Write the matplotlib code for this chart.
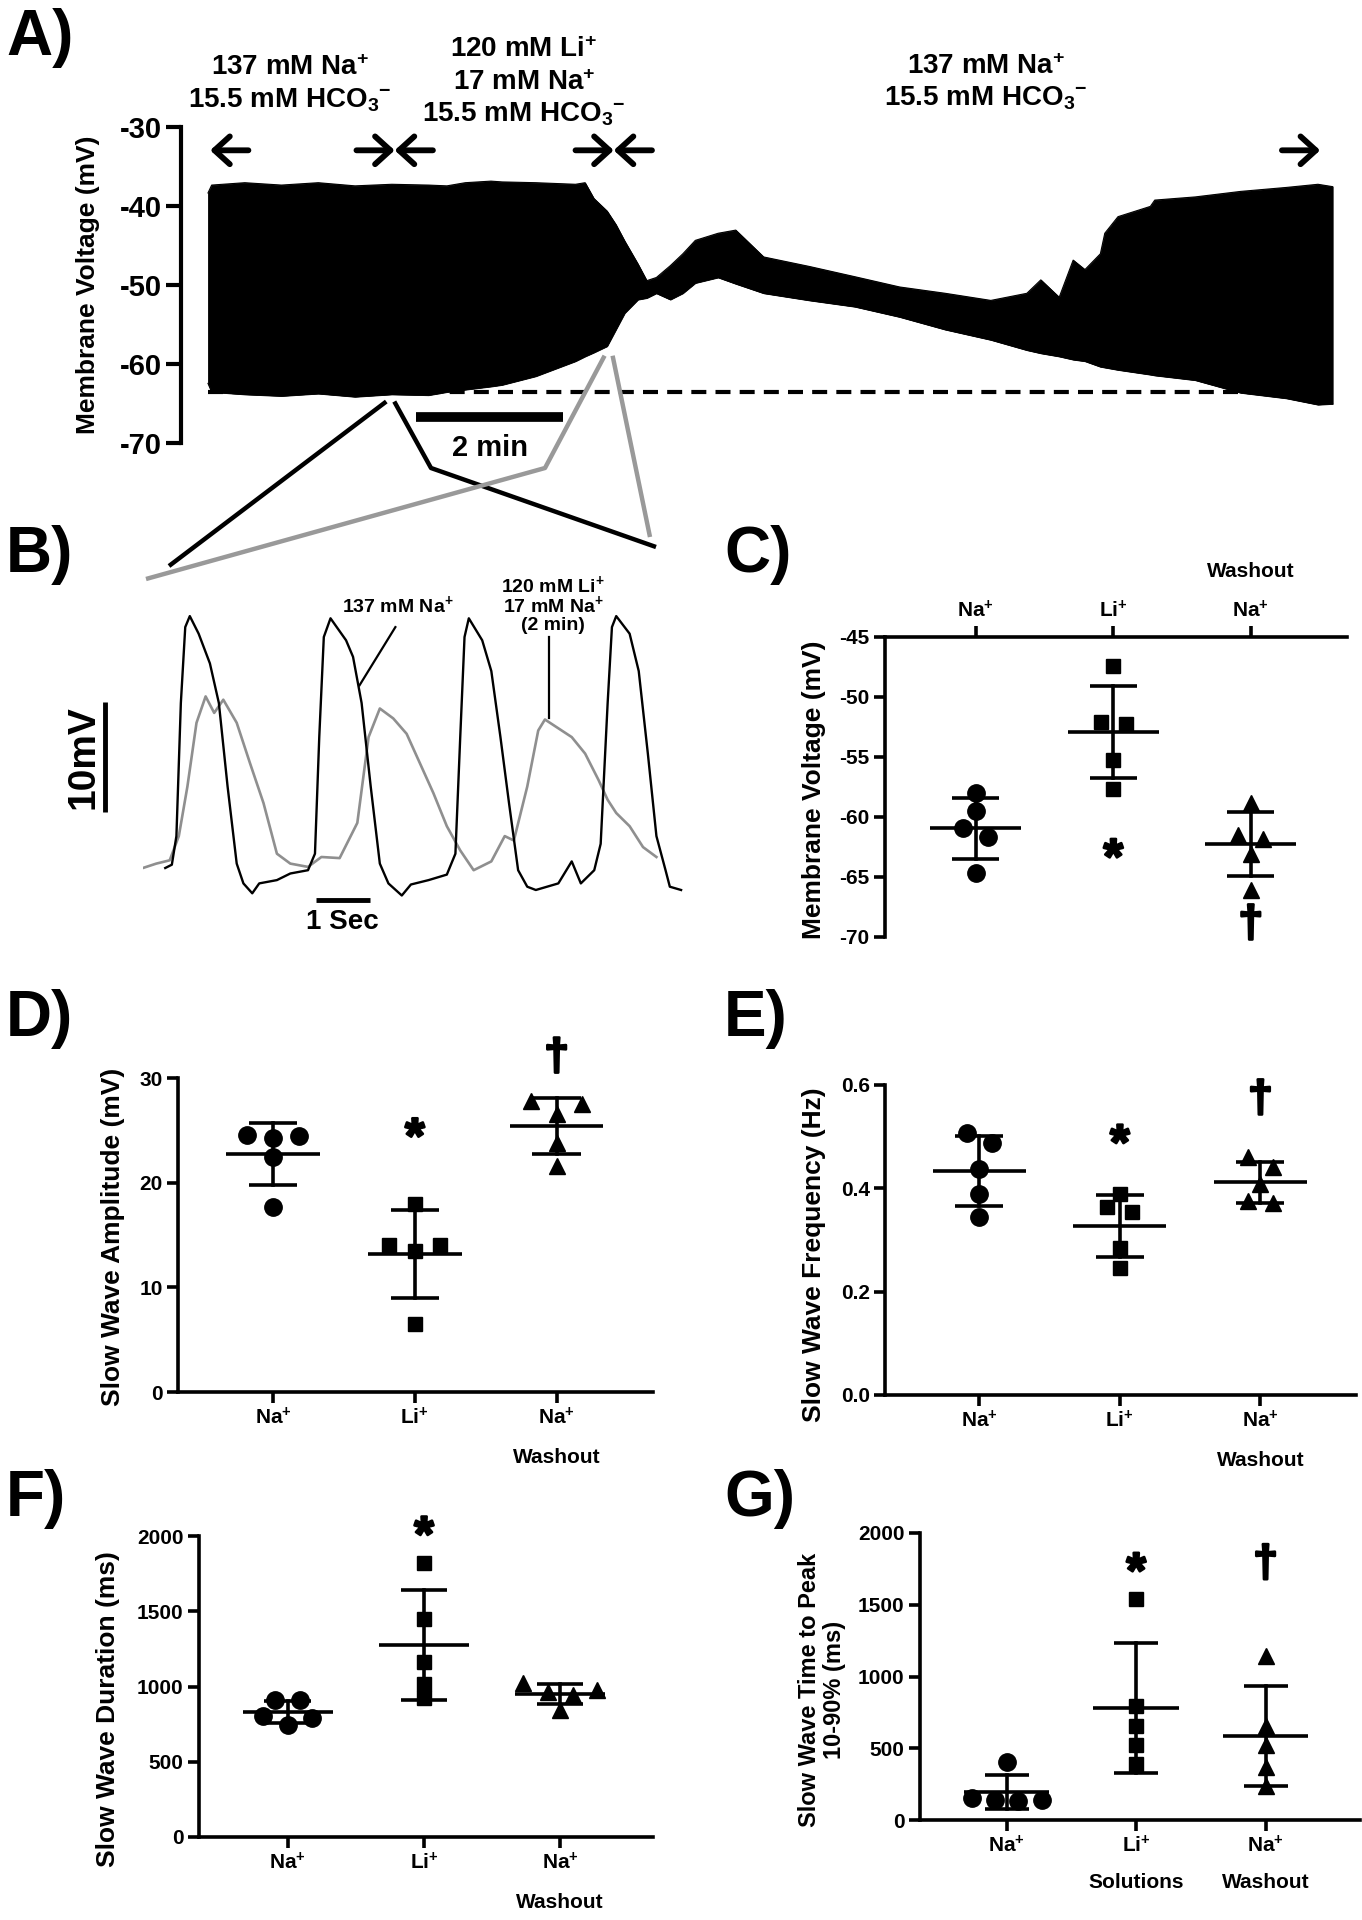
import numpy as np
import matplotlib
matplotlib.use("Agg")
import matplotlib.pyplot as plt
from matplotlib import font_manager
from matplotlib.transforms import offset_copy
import matplotlib.patheffects as pe

W, H = 1362, 1920
_names = {f.name for f in font_manager.fontManager.ttflist}
BOLD = "Liberation Sans" if "Liberation Sans" in _names else "DejaVu Sans"
HAS_NARROW = "Liberation Sans Narrow" in _names
NARROW = "Liberation Sans Narrow" if HAS_NARROW else BOLD

plt.rcParams.update({
    "font.family": [NARROW, "DejaVu Sans"],
    "font.weight": "bold",
    "axes.unicode_minus": False,
    "mathtext.fontset": "custom",
    "mathtext.rm": f"{NARROW}:bold",
    "mathtext.it": f"{NARROW}:bold",
    "mathtext.bf": f"{NARROW}:bold",
    "mathtext.sf": f"{NARROW}:bold",
    "mathtext.default": "rm",
})

# ============================ DATA ============================
# Panel A: envelope of the membrane-voltage recording (time in min, mV)
a_time = [0.0, 0.05, 0.5, 1.0, 1.5, 2.0, 2.5, 3.0, 3.25, 3.5, 3.85, 4.0, 4.46,
          5.0, 5.13, 5.25, 5.43, 5.55, 5.67, 5.85, 5.97, 6.1, 6.29, 6.46, 6.63,
          6.94, 7.18, 7.56, 8.18, 8.8, 9.41, 10.03, 10.65, 11.14, 11.33, 11.58,
          11.77, 11.93, 12.14, 12.2, 12.38, 12.82, 12.88, 13.43, 14.05, 14.67,
          15.1, 15.3]
a_upper = [-38.3, -37.3, -37.0, -37.3, -37.0, -37.4, -37.2, -37.3, -37.4, -37.0,
           -36.8, -36.9, -37.0, -37.2, -37.0, -39.0, -40.6, -42.3, -44.4, -47.3,
           -49.4, -49.0, -47.5, -46.0, -44.3, -43.4, -43.0, -46.4, -47.6, -48.9,
           -50.2, -51.0, -51.9, -51.0, -49.3, -51.5, -46.8, -48.0, -46.0, -43.4,
           -41.3, -40.0, -39.2, -38.8, -38.1, -37.6, -37.2, -37.5]
a_lower = [-62.4, -63.5, -63.8, -64.0, -63.7, -64.1, -63.8, -63.9, -63.5, -63.2,
           -62.8, -62.6, -61.5, -59.6, -59.0, -58.5, -57.7, -55.6, -53.5, -51.8,
           -51.6, -51.0, -51.8, -51.0, -49.7, -49.0, -49.8, -51.0, -51.9, -52.7,
           -54.0, -55.6, -56.9, -58.2, -58.6, -59.0, -59.4, -59.6, -60.3, -60.4,
           -60.7, -61.3, -61.4, -62.0, -63.6, -64.3, -65.1, -65.0]
a_resting = -63.5                         # dashed reference line (mV)
a_solution_bounds = [0.03, 2.54, 5.52, 15.13]   # solution-change times (min)
HCO3 = "$\\mathrm{HCO}_{3}{}^{-}$"
a_solutions = [["137 mM $\\mathrm{Na}^{+}$", "15.5 mM " + HCO3],
               ["120 mM $\\mathrm{Li}^{+}$", "17 mM $\\mathrm{Na}^{+}$",
                "15.5 mM " + HCO3],
               ["137 mM $\\mathrm{Na}^{+}$", "15.5 mM " + HCO3]]
a_scalebar = (2.83, 2.0)                  # start (min), length (min)
a_yticks = [-30, -40, -50, -60, -70]
a_zoom_black = (2.48, -64.7)              # where the expanded traces were taken
a_zoom_gray = (5.45, -58.9)

# Panel B: expanded slow waves (time in s, mV)
b_black_t = [0.417, 0.54, 0.625, 0.708, 0.79, 0.875, 1.04, 1.25, 1.417, 1.58, 1.75,
             1.875, 2.04, 2.17, 2.5, 2.75, 3.08, 3.21, 3.29, 3.375, 3.5, 3.79, 3.92,
             4.08, 4.25, 4.42, 4.58, 4.83, 5.0, 5.33, 5.67, 5.83, 5.92, 6.0, 6.08,
             6.33, 6.5, 6.67, 6.83, 7.0, 7.17, 7.33, 7.75, 8.0, 8.17, 8.42, 8.54,
             8.67, 8.75, 8.83, 9.08, 9.25, 9.42, 9.58, 9.75, 9.83, 10.04]
b_black_v = [-61.7, -61.4, -58.8, -46.7, -39.8, -38.8, -40.4, -43.1, -46.7, -54.3,
             -61.3, -63.1, -64.0, -63.1, -62.8, -62.2, -61.9, -60.4, -49.8, -40.7,
             -39.0, -41.0, -42.5, -46.7, -54.3, -61.3, -63.1, -64.2, -63.2, -62.8,
             -62.3, -60.4, -49.8, -40.7, -39.0, -41.0, -43.8, -49.8, -55.8, -61.9,
             -63.4, -63.7, -63.1, -61.1, -63.1, -61.9, -59.5, -46.7, -39.8, -38.8,
             -40.4, -43.8, -51.3, -58.8, -61.9, -63.4, -63.7]
b_gray_t = [0.0, 0.25, 0.5, 0.67, 0.83, 1.0, 1.17, 1.33, 1.5, 1.75, 2.0, 2.25, 2.5,
            2.75, 3.08, 3.33, 3.67, 4.0, 4.21, 4.42, 4.67, 4.92, 5.17, 5.42, 5.67,
            5.92, 6.17, 6.5, 6.75, 6.92, 7.17, 7.375, 7.5, 7.75, 8.0, 8.25, 8.5,
            8.67, 8.83, 9.08, 9.33, 9.58]
b_gray_v = [-61.7, -61.3, -61.0, -58.8, -54.3, -48.5, -46.1, -47.6, -46.4, -48.5,
            -52.2, -55.8, -60.4, -61.3, -61.6, -60.7, -60.8, -57.6, -49.8, -47.2,
            -48.1, -49.5, -52.2, -54.9, -57.9, -60.1, -61.9, -61.1, -58.8, -59.2,
            -54.3, -49.2, -48.2, -49.0, -49.8, -51.3, -53.7, -55.5, -56.7, -57.9,
            -59.8, -60.7]

# Panels C-G: individual experiments (n = 5) per solution
categories = ["$\\mathrm{Na}^{+}$", "$\\mathrm{Li}^{+}$", "$\\mathrm{Na}^{+}$"]
c_na = [-57.97, -59.5, -60.9, -61.7, -64.7]
c_li = [-47.44, -52.28, -52.08, -55.28, -57.64]
c_wash = [-58.8, -61.5, -61.8, -63.05, -66.1]

d_na = [24.5, 24.6, 24.3, 22.5, 17.65]
d_li = [17.94, 14.0, 14.0, 13.5, 6.45]
d_wash = [27.5, 27.8, 26.6, 23.8, 21.6]

e_na = [0.508, 0.488, 0.437, 0.39, 0.345]
e_li = [0.39, 0.355, 0.363, 0.284, 0.245]
e_wash = [0.46, 0.442, 0.408, 0.372, 0.376]

f_na = [907, 907, 746, 801, 790]
f_li = [1823, 1447, 1161, 1015, 922]
f_wash = [1020, 965, 975, 945, 845]

g_na = [407, 133, 151, 140, 140]
g_li = [1542, 791, 656, 523, 391]
g_wash = [1140, 655, 520, 372, 240]

# significance marks: (category index, y position, symbol)
c_marks = [(1, -62.4, "*"), (2, -69.0, "\u2020")]
d_marks = [(1, 25.5, "*"), (2, 31.9, "\u2020")]
e_marks = [(1, 0.51, "*"), (2, 0.571, "\u2020")]
f_marks = [(1, 2084, "*")]
g_marks = [(1, 1814, "*"), (2, 1779, "\u2020")]

# ============================ FIGURE ============================
fig = plt.figure(figsize=(W / 100, H / 100), dpi=100)


def rect(l, t, r, b):
    return [l / W, 1 - b / H, (r - l) / W, (b - t) / H]


def ftext(x, y, s, **kw):
    fig.text(x / W, 1 - y / H, s, **kw)


LW = 2.6
TICK_FS = 18 if HAS_NARROW else 15
CAT_FS = 18 if HAS_NARROW else 15
LAB_FS = 19
LET_FS = 46
STAR_FS = 36
DAG_FS = 32
THICK = [pe.withStroke(linewidth=1.8, foreground="k")]

# overlay (pixel coordinates) for the zoom connectors
ov = fig.add_axes([0, 0, 1, 1], zorder=5)
ov.set_xlim(0, W)
ov.set_ylim(H, 0)
ov.axis("off")
ov.patch.set_alpha(0)

# ---------------- Panel A ----------------
axA = fig.add_axes(rect(181, 127.4, 1340, 443.4))
axA.set_xlim(-0.367, 15.40)
axA.set_ylim(-70, -30)
axA.fill_between(a_time, a_lower, a_upper, color="k", lw=0.6, zorder=2)
axA.plot(a_time, a_upper, color="k", lw=0.8)
axA.plot(a_time, a_lower, color="k", lw=0.8)
axA.plot([a_time[0], a_time[-1]], [a_resting, a_resting], color="k", lw=3.0,
         dashes=(3.6, 2.2), zorder=3)
for s in ["top", "right", "bottom"]:
    axA.spines[s].set_visible(False)
axA.spines["left"].set_linewidth(3)
axA.set_xticks([])
axA.set_yticks(a_yticks)
axA.set_yticklabels([str(v) for v in a_yticks], fontsize=21, family=BOLD,
                    fontweight="bold")
axA.tick_params(axis="y", length=11, width=3, pad=3)

arrow_len = 0.52
arrow_y = -32.9
for i, bnd in enumerate(a_solution_bounds):
    tails = []
    if i > 0:
        tails.append(bnd - arrow_len)
    if i < len(a_solution_bounds) - 1:
        tails.append(bnd + arrow_len)
    for tl in tails:
        axA.annotate("", xy=(bnd, arrow_y), xytext=(tl, arrow_y),
                     arrowprops=dict(arrowstyle="->,head_length=0.55,head_width=0.5",
                                     lw=4.2, color="k", shrinkA=0, shrinkB=0,
                                     mutation_scale=20), annotation_clip=False)

sol_x = [290, 524, 986]
sol_base = [[75, 107], [57, 90, 122], [74, 106]]
for x, lines, bases in zip(sol_x, a_solutions, sol_base):
    for ln, yb in zip(lines, bases):
        ftext(x, yb, ln, ha="center", va="baseline", fontsize=20)

sb0, sbl = a_scalebar
axA.plot([sb0, sb0 + sbl], [-66.6, -66.6], color="k", lw=7, solid_capstyle="butt",
         clip_on=False)
axA.text(sb0 + sbl / 2, -70.6, "2 min", ha="center", va="center", fontsize=21,
         clip_on=False)
ftext(88, 285, "Membrane Voltage (mV)", rotation=90, ha="center", va="center",
      fontsize=LAB_FS, family=BOLD, fontweight="bold")

# ---------------- Panel B ----------------
axB = fig.add_axes(rect(142.9, 596.3, 684.3, 915.3))
axB.set_xlim(0, 10.1)
axB.set_ylim(-66, -37)
axB.axis("off")
axB.plot(b_gray_t, b_gray_v, color="#8f8f8f", lw=1.9, zorder=2)
axB.plot(b_black_t, b_black_v, color="k", lw=1.7, zorder=3)
axB.plot([-0.708, -0.708], [-46.6, -56.6], color="k", lw=3.5, clip_on=False,
         solid_capstyle="butt")
axB.text(-1.1, -51.6, "10mV", rotation=90, ha="center", va="center", fontsize=28,
         family=BOLD, fontweight="bold", clip_on=False)
axB.plot([3.23, 4.23], [-64.6, -64.6], color="k", lw=3.5, clip_on=False,
         solid_capstyle="butt")
axB.text(3.73, -66.6, "1 Sec", ha="center", va="center", fontsize=20,
         clip_on=False)
axB.plot([4.71, 4.04], [-39.8, -45.1], color="k", lw=1.6, clip_on=False)
axB.text(4.75, -37.8, "137 mM $\\mathrm{Na}^{+}$", ha="center", va="center",
         fontsize=14, clip_on=False)
axB.plot([7.58, 7.58], [-40.7, -48.1], color="k", lw=1.6, clip_on=False)
for ln, yy in zip(["120 mM $\\mathrm{Li}^{+}$", "17 mM $\\mathrm{Na}^{+}$", "(2 min)"],
                  [-36.0, -37.8, -39.7]):
    axB.text(7.65, yy, ln, ha="center", va="center", fontsize=14, clip_on=False)


def to_ov(ax, pt):
    x, y = ax.transData.transform(pt)
    return x, H - y


# zoom connectors
bk = to_ov(axA, a_zoom_black)
gr = to_ov(axA, a_zoom_gray)
ov.plot([bk[0] - 4, 169], [bk[1], 566], color="k", lw=3.2, solid_capstyle="butt")
ov.plot([bk[0] + 4, 431, 656], [bk[1], 468, 547], color="k", lw=3.2,
        solid_capstyle="butt")
ov.plot([gr[0] - 4, 545, 146], [gr[1], 468, 579], color="#999999", lw=3.2,
        solid_capstyle="butt")
ov.plot([gr[0] + 4, 650], [gr[1], 537], color="#999999", lw=3.2,
        solid_capstyle="butt")


# ---------------- scatter panels ----------------
def swarm_offsets(vals, px_per_unit, thresh_px=12.0, d=0.18):
    vals = np.asarray(vals, dtype=float)
    order = np.argsort(vals, kind="stable")
    groups = [[order[0]]]
    for a, b in zip(order[:-1], order[1:]):
        if (vals[b] - vals[a]) * px_per_unit < thresh_px:
            groups[-1].append(b)
        else:
            groups.append([b])
    offs = np.zeros(len(vals))
    for g in groups:
        n = len(g)
        slots = sorted([k - (n - 1) / 2 for k in range(n)], key=lambda s: (abs(s), -s))
        for idx, s in zip(g, slots):
            offs[idx] = s * d
    return offs


MARKERS = [("o", 12.5), ("s", 10.5), ("^", 12)]


def scatter_panel(box, xlim, ylim, yticks, yfmt, groups, marks, top=False):
    ax = fig.add_axes(rect(*box))
    ax.set_xlim(*xlim)
    ax.set_ylim(*ylim)
    hpx = box[3] - box[1]
    ppu = hpx / (ylim[1] - ylim[0])
    for i, vals in enumerate(groups):
        vals = np.asarray(vals, dtype=float)
        m, sd = vals.mean(), vals.std(ddof=1)
        offs = swarm_offsets(vals, ppu)
        mk, ms = MARKERS[i]
        ax.plot(i + offs, vals, ls="none", marker=mk, ms=ms, color="k",
                clip_on=False, zorder=4)
        ax.plot([i - 0.33, i + 0.33], [m, m], color="k", lw=LW, clip_on=False,
                solid_capstyle="butt")
        ax.plot([i, i], [m - sd, m + sd], color="k", lw=LW, clip_on=False)
        for yy in (m - sd, m + sd):
            ax.plot([i - 0.17, i + 0.17], [yy, yy], color="k", lw=LW,
                    clip_on=False, solid_capstyle="butt")
    for ci, yy, sym in marks:
        if sym == "*":
            fs = STAR_FS
            tr = offset_copy(ax.transData, fig=fig, y=-0.55 * fs, units="points")
        else:
            fs = DAG_FS
            tr = offset_copy(ax.transData, fig=fig, y=-0.26 * fs, units="points")
        ax.text(ci, yy, sym, transform=tr, ha="center", va="baseline",
                fontsize=fs, family=BOLD, fontweight="bold", clip_on=False,
                path_effects=THICK)
    ax.spines["right"].set_visible(False)
    if top:
        ax.spines["bottom"].set_visible(False)
        ax.xaxis.tick_top()
    else:
        ax.spines["top"].set_visible(False)
    for s in ax.spines.values():
        s.set_linewidth(LW)
    ax.set_xticks(range(3))
    ax.set_xticklabels(categories, fontsize=CAT_FS)
    ax.set_yticks(yticks)
    ax.set_yticklabels([yfmt.format(v) for v in yticks], fontsize=TICK_FS)
    ax.tick_params(length=8, width=LW, pad=3)
    ax.patch.set_alpha(0)
    return ax


axC = scatter_panel((885, 637, 1347, 937), (-0.66, 2.70), (-70, -45),
                    [-45, -50, -55, -60, -65, -70], "{:d}", [c_na, c_li, c_wash],
                    c_marks, top=True)
axD = scatter_panel((178, 1078, 653, 1392), (-0.67, 2.68), (0, 30),
                    [0, 10, 20, 30], "{:d}", [d_na, d_li, d_wash], d_marks)
axE = scatter_panel((885, 1085, 1356, 1395), (-0.67, 2.68), (0, 0.6),
                    [0.0, 0.2, 0.4, 0.6], "{:.1f}", [e_na, e_li, e_wash], e_marks)
axF = scatter_panel((199, 1536, 653, 1837), (-0.65, 2.68), (0, 2000),
                    [0, 500, 1000, 1500, 2000], "{:d}", [f_na, f_li, f_wash], f_marks)
axG = scatter_panel((920, 1533, 1360, 1820), (-0.67, 2.73), (0, 2000),
                    [0, 500, 1000, 1500, 2000], "{:d}", [g_na, g_li, g_wash], g_marks)

# extra category text
axC.text(2, -45, "Washout", transform=offset_copy(axC.transData, fig=fig, y=47,
         units="points"), ha="center", va="center", fontsize=CAT_FS, clip_on=False)
for ax, dy in [(axD, -47), (axE, -47), (axF, -47)]:
    ax.text(2, 0, "Washout", transform=offset_copy(ax.transData, fig=fig, y=dy,
            units="points"), ha="center", va="center", fontsize=CAT_FS, clip_on=False)
axG.text(1, 0, "Solutions", transform=offset_copy(axG.transData, fig=fig, y=-45,
         units="points"), ha="center", va="center", fontsize=CAT_FS, clip_on=False)
axG.text(2, 0, "Washout", transform=offset_copy(axG.transData, fig=fig, y=-45,
         units="points"), ha="center", va="center", fontsize=CAT_FS, clip_on=False)

# y labels
ftext(814, 790, "Membrane Voltage (mV)", rotation=90, ha="center", va="center",
      fontsize=LAB_FS, family=BOLD, fontweight="bold")
ftext(113, 1237, "Slow Wave Amplitude (mV)", rotation=90, ha="center", va="center",
      fontsize=LAB_FS, family=BOLD, fontweight="bold")
ftext(814, 1255, "Slow Wave Frequency (Hz)", rotation=90, ha="center", va="center",
      fontsize=LAB_FS, family=BOLD, fontweight="bold")
ftext(108, 1709, "Slow Wave Duration (ms)", rotation=90, ha="center", va="center",
      fontsize=LAB_FS, family=BOLD, fontweight="bold")
ftext(822, 1690, "Slow Wave Time to Peak\n10-90% (ms)", rotation=90, ha="center",
      va="center", fontsize=17, family=BOLD, fontweight="bold", linespacing=1.15)

# panel letters
for lab, x, y in [("A)", 6, 55), ("B)", 6, 572), ("C)", 724, 572), ("D)", 6, 1036),
                  ("E)", 724, 1036), ("F)", 6, 1516), ("G)", 724, 1516)]:
    ftext(x, y, lab, ha="left", va="baseline", fontsize=LET_FS, family=BOLD,
          fontweight="bold")

fig.savefig("out.png", dpi=100)
